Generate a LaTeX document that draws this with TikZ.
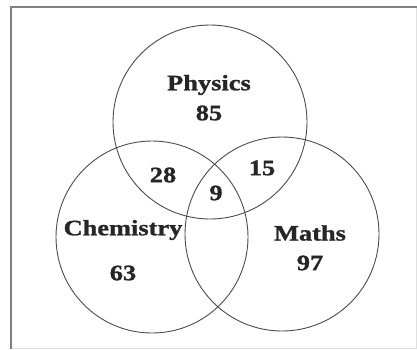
\documentclass[tikz,border=0pt]{standalone}
\usepackage{fontspec}
\setmainfont{Liberation Serif}[FakeStretch=1.2,FakeBold=1.2]
\tikzset{
  setcircle/.style={draw=black!70, line width=.9pt},
  setlabel/.style={font=\fontsize{22}{23}\selectfont\bfseries, text=black!85, inner sep=0pt},
  frameline/.style={draw=black!50, line width=2pt},
}

\begin{document}
\begin{tikzpicture}[x=1pt,y=-1pt]
\useasboundingbox (0,0) rectangle (417,349);
% frame
\draw[black!12, line width=1pt] (416,7) -- (416,348) -- (11,348);
\draw[frameline] (11,349) -- (11,7) -- (417,7);
% the three sets
\coordinate (P) at (210,122);
\coordinate (C) at (152,237);
\coordinate (M) at (282,234);
\draw[setcircle] (P) circle (97);
\draw[setcircle] (C) circle (96);
\draw[setcircle] (M) circle (97);
% counts
\node[setlabel] (physics) at (209,85) {Physics};
\node[setlabel] (physicsn) at (209,113) {85};
\node[setlabel] (chem) at (123,230) {Chemistry};
\node[setlabel] (chemn) at (123,273) {63};
\node[setlabel] (maths) at (310,233) {Maths};
\node[setlabel] (mathsn) at (310,263) {97};
\node[setlabel] (pc) at (163,175) {28};
\node[setlabel] (pm) at (262,168) {15};
\node[setlabel] (pcm) at (216,193) {9};
\end{tikzpicture}
\end{document}
